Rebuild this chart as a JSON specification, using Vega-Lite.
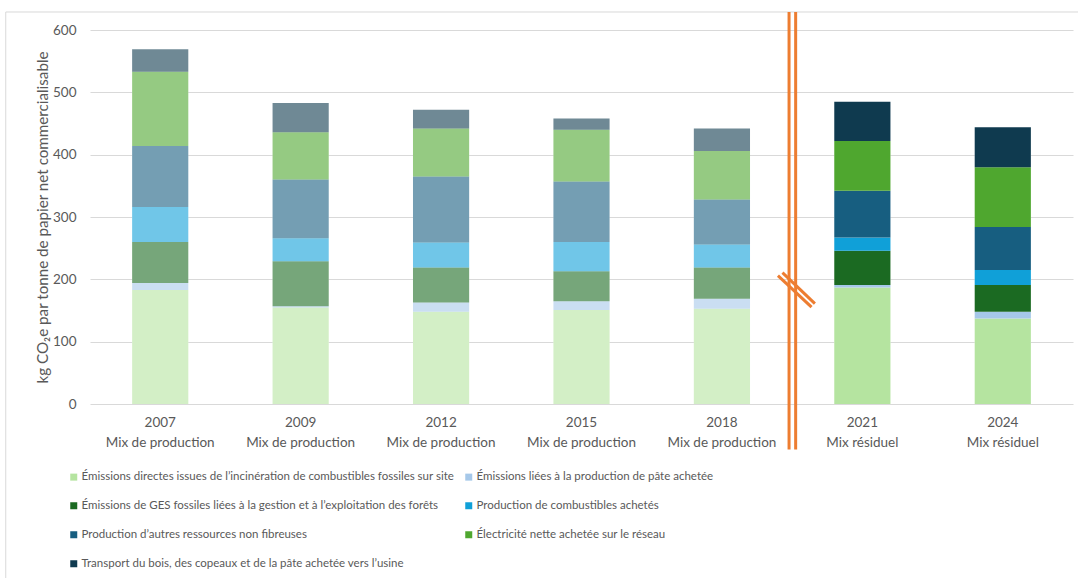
{
  "$schema": "https://vega.github.io/schema/vega-lite/v6.json",
  "width": 983,
  "height": 374,
  "autosize": {"type": "none"},
  "padding": {"left": 90, "top": 30, "right": 5, "bottom": 174},
  "background": "white",
  "config": {"view": {"stroke": null}, "font": "Lato"},
  "datasets": {
    "series": [
      {"k": 1, "serie": "Émissions directes issues de l’incinération de combustibles fossiles sur site"},
      {"k": 2, "serie": "Émissions liées à la production de pâte achetée"},
      {"k": 3, "serie": "Émissions de GES fossiles liées à la gestion et à l’exploitation des forêts"},
      {"k": 4, "serie": "Production de combustibles achetés"},
      {"k": 5, "serie": "Production d’autres ressources non fibreuses"},
      {"k": 6, "serie": "Électricité nette achetée sur le réseau"},
      {"k": 7, "serie": "Transport du bois, des copeaux et de la pâte achetée vers l’usine"}
    ],
    "valeurs": [
      {"libelle": "2007|Mix de production", "k": 1, "valeur": 183},
      {"libelle": "2007|Mix de production", "k": 2, "valeur": 11},
      {"libelle": "2007|Mix de production", "k": 3, "valeur": 66},
      {"libelle": "2007|Mix de production", "k": 4, "valeur": 56},
      {"libelle": "2007|Mix de production", "k": 5, "valeur": 98},
      {"libelle": "2007|Mix de production", "k": 6, "valeur": 119},
      {"libelle": "2007|Mix de production", "k": 7, "valeur": 36},
      {"libelle": "2009|Mix de production", "k": 1, "valeur": 155},
      {"libelle": "2009|Mix de production", "k": 2, "valeur": 2},
      {"libelle": "2009|Mix de production", "k": 3, "valeur": 72},
      {"libelle": "2009|Mix de production", "k": 4, "valeur": 37},
      {"libelle": "2009|Mix de production", "k": 5, "valeur": 94},
      {"libelle": "2009|Mix de production", "k": 6, "valeur": 76},
      {"libelle": "2009|Mix de production", "k": 7, "valeur": 47},
      {"libelle": "2012|Mix de production", "k": 1, "valeur": 148},
      {"libelle": "2012|Mix de production", "k": 2, "valeur": 15},
      {"libelle": "2012|Mix de production", "k": 3, "valeur": 56},
      {"libelle": "2012|Mix de production", "k": 4, "valeur": 40},
      {"libelle": "2012|Mix de production", "k": 5, "valeur": 106},
      {"libelle": "2012|Mix de production", "k": 6, "valeur": 77},
      {"libelle": "2012|Mix de production", "k": 7, "valeur": 30},
      {"libelle": "2015|Mix de production", "k": 1, "valeur": 151},
      {"libelle": "2015|Mix de production", "k": 2, "valeur": 14},
      {"libelle": "2015|Mix de production", "k": 3, "valeur": 48},
      {"libelle": "2015|Mix de production", "k": 4, "valeur": 47},
      {"libelle": "2015|Mix de production", "k": 5, "valeur": 97},
      {"libelle": "2015|Mix de production", "k": 6, "valeur": 83},
      {"libelle": "2015|Mix de production", "k": 7, "valeur": 18},
      {"libelle": "2018|Mix de production", "k": 1, "valeur": 153},
      {"libelle": "2018|Mix de production", "k": 2, "valeur": 16},
      {"libelle": "2018|Mix de production", "k": 3, "valeur": 50},
      {"libelle": "2018|Mix de production", "k": 4, "valeur": 37},
      {"libelle": "2018|Mix de production", "k": 5, "valeur": 72},
      {"libelle": "2018|Mix de production", "k": 6, "valeur": 78},
      {"libelle": "2018|Mix de production", "k": 7, "valeur": 36},
      {"libelle": "2021|Mix résiduel", "k": 1, "valeur": 187},
      {"libelle": "2021|Mix résiduel", "k": 2, "valeur": 4},
      {"libelle": "2021|Mix résiduel", "k": 3, "valeur": 55},
      {"libelle": "2021|Mix résiduel", "k": 4, "valeur": 21},
      {"libelle": "2021|Mix résiduel", "k": 5, "valeur": 75},
      {"libelle": "2021|Mix résiduel", "k": 6, "valeur": 80},
      {"libelle": "2021|Mix résiduel", "k": 7, "valeur": 63},
      {"libelle": "2024|Mix résiduel", "k": 1, "valeur": 137},
      {"libelle": "2024|Mix résiduel", "k": 2, "valeur": 11},
      {"libelle": "2024|Mix résiduel", "k": 3, "valeur": 43},
      {"libelle": "2024|Mix résiduel", "k": 4, "valeur": 24},
      {"libelle": "2024|Mix résiduel", "k": 5, "valeur": 69},
      {"libelle": "2024|Mix résiduel", "k": 6, "valeur": 96},
      {"libelle": "2024|Mix résiduel", "k": 7, "valeur": 64}
    ]
  },
  "layer": [
    {
      "data": {"name": "valeurs"},
      "transform": [
        {"lookup": "k", "from": {"data": {"name": "series"}, "key": "k", "fields": ["serie"]}}
      ],
      "layer": [
        {
          "mark": {"type": "bar", "color": "white"},
          "encoding": {
            "x": {"field": "libelle", "type": "nominal", "sort": null,
                  "scale": {"paddingInner": 0.6, "paddingOuter": 0.3},
                  "axis": {"title": null, "domain": false, "ticks": false, "grid": false, "labelAngle": 0,
                           "labelColor": "#595959", "labelFontSize": 13.5, "labelPadding": 11,
                           "labelLineHeight": 20, "labelExpr": "split(datum.label, '|')"}},
            "y": {"aggregate": "sum", "field": "valeur", "type": "quantitative",
                  "scale": {"domain": [0, 600]},
                  "axis": {"values": [0, 100, 200, 300, 400, 500, 600], "grid": true, "gridColor": "#d9d9d9",
                           "domain": false, "ticks": false, "labelColor": "#595959", "labelFontSize": 13.5,
                           "labelPadding": 14, "title": "kg CO₂e par tonne de papier net commercialisable",
                           "titleColor": "#595959", "titleFontSize": 15.2, "titleFontWeight": "normal",
                           "titlePadding": 2}}
          }
        },
        {
          "mark": {"type": "bar"},
          "encoding": {
            "x": {"field": "libelle", "type": "nominal", "sort": null},
            "y": {"field": "valeur", "type": "quantitative", "stack": "zero"},
            "order": {"field": "k", "type": "quantitative"},
            "color": {"field": "serie", "type": "nominal",
                      "scale": {
                        "domain": [
                          "Émissions directes issues de l’incinération de combustibles fossiles sur site",
                          "Émissions liées à la production de pâte achetée",
                          "Émissions de GES fossiles liées à la gestion et à l’exploitation des forêts",
                          "Production de combustibles achetés",
                          "Production d’autres ressources non fibreuses",
                          "Électricité nette achetée sur le réseau",
                          "Transport du bois, des copeaux et de la pâte achetée vers l’usine"
                        ],
                        "range": ["#b5e4a0", "#a6c8e9", "#1b6a22", "#10a0d8", "#175e80", "#4fa72f", "#0f3a4f"]
                      },
                      "legend": {"orient": "none", "legendX": -22, "legendY": 441, "columns": 2,
                                 "direction": "horizontal", "title": null,
                                 "symbolType": "square", "symbolSize": 49, "symbolStrokeWidth": 0,
                                 "labelFont": "Lato", "labelFontSize": 11.5, "labelColor": "#595959",
                                 "rowPadding": 16, "columnPadding": 8, "labelOffset": 2, "labelLimit": 600}},
            "opacity": {"condition": {"test": "indexof(datum.libelle, 'production') >= 0", "value": 0.6}, "value": 1}
          }
        }
      ]
    },
    {
      "data": {"values": [{}]},
      "layer": [
        {
          "mark": {"type": "rule", "color": "#d9d9d9", "strokeWidth": 1},
          "encoding": {
            "x": {"datum": -0.1, "type": "quantitative", "scale": {"domain": [0.5, 7.5]}, "axis": null},
            "x2": {"datum": 7.6},
            "y": {"datum": 628.9, "type": "quantitative", "scale": {"domain": [0, 600]}, "axis": null}
          }
        },
        {
          "mark": {"type": "rule", "color": "#d9d9d9", "strokeWidth": 1},
          "encoding": {
            "x": {"datum": -0.1, "type": "quantitative", "scale": {"domain": [0.5, 7.5]}, "axis": null},
            "y": {"datum": 628.9, "type": "quantitative", "scale": {"domain": [0, 600]}, "axis": null},
            "y2": {"datum": -280}
          }
        },
        {
          "mark": {"type": "rule", "color": "#ed7d31", "strokeWidth": 3},
          "encoding": {
            "x": {"datum": 5.478, "type": "quantitative", "scale": {"domain": [0.5, 7.5]}, "axis": null},
            "y": {"datum": 629, "type": "quantitative", "scale": {"domain": [0, 600]}, "axis": null},
            "y2": {"datum": -73}
          }
        },
        {
          "mark": {"type": "rule", "color": "#ed7d31", "strokeWidth": 3},
          "encoding": {
            "x": {"datum": 5.525, "type": "quantitative", "scale": {"domain": [0.5, 7.5]}, "axis": null},
            "y": {"datum": 629, "type": "quantitative", "scale": {"domain": [0, 600]}, "axis": null},
            "y2": {"datum": -73}
          }
        },
        {
          "mark": {"type": "rule", "color": "#ed7d31", "strokeWidth": 3},
          "encoding": {
            "x": {"datum": 5.399, "type": "quantitative", "scale": {"domain": [0.5, 7.5]}, "axis": null},
            "y": {"datum": 205.8, "type": "quantitative", "scale": {"domain": [0, 600]}, "axis": null},
            "x2": {"datum": 5.638},
            "y2": {"datum": 155.3}
          }
        },
        {
          "mark": {"type": "rule", "color": "#ed7d31", "strokeWidth": 3},
          "encoding": {
            "x": {"datum": 5.431, "type": "quantitative", "scale": {"domain": [0.5, 7.5]}, "axis": null},
            "y": {"datum": 210.7, "type": "quantitative", "scale": {"domain": [0, 600]}, "axis": null},
            "x2": {"datum": 5.662},
            "y2": {"datum": 160.9}
          }
        }
      ]
    }
  ],
  "resolve": {"scale": {"x": "independent", "y": "independent"}}
}
